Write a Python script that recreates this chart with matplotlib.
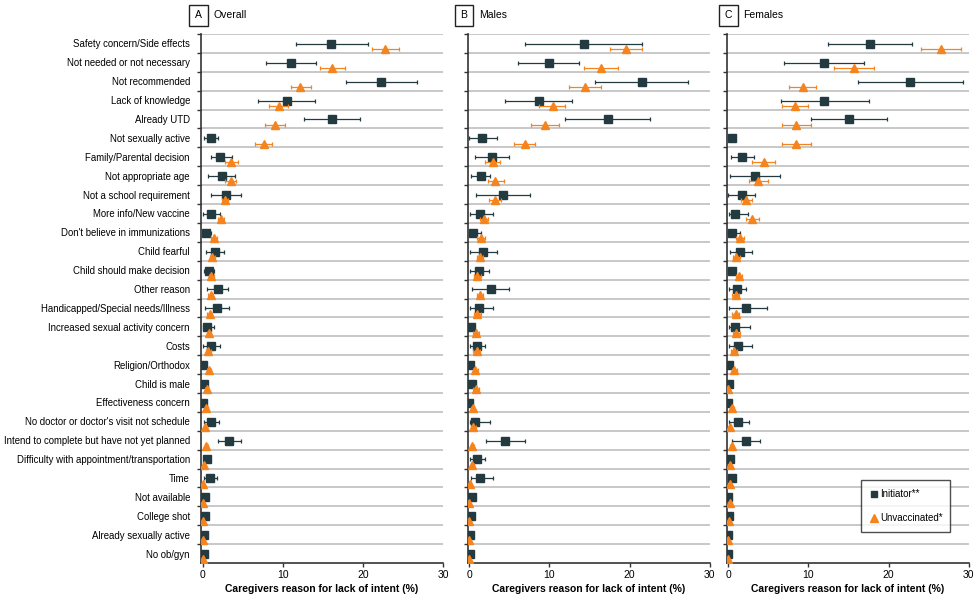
import matplotlib
matplotlib.use("Agg")
import matplotlib.pyplot as plt
import numpy as np
from matplotlib.lines import Line2D

plt.rcParams['font.family'] = ['Liberation Sans', 'DejaVu Sans']

reasons = [
    "Safety concern/Side effects", "Not needed or not necessary", "Not recommended",
    "Lack of knowledge", "Already UTD", "Not sexually active", "Family/Parental decision",
    "Not appropriate age", "Not a school requirement", "More info/New vaccine",
    "Don't believe in immunizations", "Child fearful", "Child should make decision",
    "Other reason", "Handicapped/Special needs/Illness", "Increased sexual activity concern",
    "Costs", "Religion/Orthodox", "Child is male", "Effectiveness concern",
    "No doctor or doctor's visit not schedule", "Intend to complete but have not yet planned",
    "Difficulty with appointment/transportation", "Time", "Not available", "College shot",
    "Already sexually active", "No ob/gyn",
]

# ---- Panel A: Overall ----
overall_init = [16.0, 11.0, 22.3, 10.5, 16.2, 1.0, 2.2, 2.4, 2.9, 1.0, 0.45, 1.6, 0.75, 1.9, 1.75, 0.5, 1.0, 0.1, 0.2, 0.05, 1.0, 3.3, 0.6, 0.9, 0.3, 0.3, 0.15, 0.15]
overall_init_lo = [11.6, 7.9, 17.9, 6.9, 12.6, 0.2, 1.0, 0.7, 1.0, 0.1, 0.0, 0.4, 0.2, 0.6, 0.25, 0.0, 0.1, 0.1, 0.2, 0.05, 0.2, 1.9, 0.3, 0.2, 0.3, 0.3, 0.15, 0.15]
overall_init_hi = [20.6, 14.2, 26.7, 14.0, 19.7, 1.9, 3.7, 4.1, 4.8, 2.2, 1.0, 2.7, 1.4, 3.2, 3.3, 1.4, 2.2, 0.1, 0.2, 0.05, 2.0, 4.8, 0.9, 1.8, 0.3, 0.3, 0.15, 0.15]
overall_unv = [22.8, 16.1, 12.2, 9.5, 9.0, 7.6, 3.6, 3.5, 2.8, 2.3, 1.45, 1.2, 1.1, 1.0, 0.9, 0.8, 0.7, 0.8, 0.5, 0.45, 0.35, 0.45, 0.15, 0.05, 0.1, 0.1, 0.05, 0.0]
overall_unv_lo = [21.2, 14.6, 11.0, 8.3, 7.8, 6.6, 2.8, 2.8, 2.4, 1.9, 1.1, 0.9, 0.8, 0.7, 0.6, 0.5, 0.4, 0.5, 0.3, 0.25, 0.2, 0.25, 0.05, 0.0, 0.0, 0.0, 0.0, 0.0]
overall_unv_hi = [24.5, 17.8, 13.5, 10.6, 10.3, 8.7, 4.4, 4.2, 3.2, 2.7, 1.8, 1.5, 1.4, 1.3, 1.2, 1.1, 1.0, 1.1, 0.7, 0.65, 0.5, 0.65, 0.25, 0.1, 0.2, 0.2, 0.1, 0.0]

# ---- Panel B: Males ----
males_init = [14.3, 10.0, 21.5, 8.7, 17.25, 1.6, 2.8, 1.4, 4.2, 1.3, 0.5, 1.7, 1.2, 2.75, 1.2, 0.2, 1.0, 0.05, 0.3, 0.0, 0.75, 4.5, 0.9, 1.3, 0.3, 0.15, 0.05, 0.05]
males_init_lo = [6.9, 6.1, 15.7, 4.5, 12.0, 0.0, 0.7, 0.2, 0.8, 0.1, 0.0, 0.1, 0.1, 0.3, 0.1, 0.2, 0.1, 0.05, 0.3, 0.0, 0.1, 2.1, 0.1, 0.15, 0.3, 0.15, 0.05, 0.05]
males_init_hi = [21.6, 13.7, 27.3, 12.8, 22.6, 3.4, 5.0, 2.6, 7.6, 3.0, 1.4, 3.4, 2.5, 5.0, 3.0, 0.2, 1.9, 0.05, 0.3, 0.0, 2.6, 7.0, 2.0, 3.0, 0.3, 0.15, 0.05, 0.05]
males_unv = [19.5, 16.4, 14.5, 10.4, 9.5, 6.9, 2.9, 3.25, 3.25, 1.8, 1.5, 1.3, 1.0, 1.3, 1.0, 0.8, 0.9, 0.75, 0.8, 0.4, 0.5, 0.35, 0.35, 0.1, 0.0, 0.0, 0.0, 0.0]
males_unv_lo = [17.5, 14.3, 12.5, 8.7, 7.7, 5.6, 2.0, 2.3, 2.5, 1.3, 1.0, 0.9, 0.6, 0.9, 0.6, 0.4, 0.5, 0.4, 0.4, 0.2, 0.2, 0.15, 0.15, 0.0, 0.0, 0.0, 0.0, 0.0]
males_unv_hi = [21.5, 18.6, 16.4, 12.0, 11.2, 8.2, 3.8, 4.3, 4.0, 2.3, 2.0, 1.7, 1.4, 1.7, 1.4, 1.2, 1.3, 1.1, 1.2, 0.6, 0.8, 0.55, 0.55, 0.2, 0.0, 0.0, 0.0, 0.0]

# ---- Panel C: Females ----
females_init = [17.7, 12.0, 22.7, 12.0, 15.1, 0.4, 1.75, 3.3, 1.7, 0.8, 0.45, 1.4, 0.4, 1.1, 2.25, 0.8, 1.2, 0.1, 0.05, 0.0, 1.2, 2.2, 0.25, 0.45, 0.0, 0.1, 0.0, 0.0]
females_init_lo = [12.4, 7.0, 16.2, 6.6, 10.3, 0.4, 0.3, 0.2, 0.0, 0.1, 0.0, 0.2, 0.4, 0.1, 0.1, 0.1, 0.1, 0.1, 0.05, 0.0, 0.1, 0.45, 0.25, 0.45, 0.0, 0.1, 0.0, 0.0]
females_init_hi = [22.9, 16.9, 29.25, 17.5, 19.8, 0.4, 3.2, 6.4, 3.3, 2.5, 1.4, 3.0, 0.4, 2.2, 4.8, 2.7, 3.0, 0.1, 0.05, 0.0, 2.6, 4.0, 0.25, 0.45, 0.0, 0.1, 0.0, 0.0]
females_unv = [26.5, 15.7, 9.3, 8.3, 8.5, 8.5, 4.4, 3.75, 2.25, 3.0, 1.5, 1.0, 1.3, 0.9, 0.9, 1.0, 0.7, 0.75, 0.0, 0.45, 0.2, 0.4, 0.15, 0.15, 0.15, 0.1, 0.0, 0.0]
females_unv_lo = [24.0, 13.25, 7.6, 6.7, 6.7, 6.7, 3.0, 2.6, 1.6, 2.2, 1.0, 0.6, 0.9, 0.5, 0.5, 0.6, 0.3, 0.4, 0.0, 0.2, 0.05, 0.2, 0.05, 0.05, 0.05, 0.0, 0.0, 0.0]
females_unv_hi = [29.1, 18.2, 11.0, 10.0, 10.3, 10.3, 5.8, 4.9, 2.9, 3.8, 2.0, 1.4, 1.7, 1.3, 1.3, 1.4, 1.1, 1.1, 0.0, 0.7, 0.35, 0.6, 0.25, 0.25, 0.25, 0.2, 0.0, 0.0]

panel_letters = ["A", "B", "C"]
panel_titles = ["Overall", "Males", "Females"]
x_ticks = [0, 10, 20, 30]
xlabel = "Caregivers reason for lack of intent (%)"
legend_labels = ["Initiator**", "Unvaccinated*"]

SQ_COLOR = "#233a40"
TRI_COLOR = "#f5841f"
GRID_COLOR = "#c4c4c4"
AX_COLOR = "#333333"

fig = plt.figure(figsize=(9.75, 6.02), dpi=100)
W, H = 975, 602
ax_lefts = [201.0, 467.7, 726.7]
ax_right_offset = 242.0
top_px, bot_px = 34.0, 563.0

data = [
    (overall_init, overall_init_lo, overall_init_hi, overall_unv, overall_unv_lo, overall_unv_hi),
    (males_init, males_init_lo, males_init_hi, males_unv, males_unv_lo, males_unv_hi),
    (females_init, females_init_lo, females_init_hi, females_unv, females_unv_lo, females_unv_hi),
]

n = len(reasons)
rows = np.arange(n)
axes = []
for k in range(3):
    left = ax_lefts[k] / W
    width = ax_right_offset / W
    ax = fig.add_axes([left, 1 - bot_px / H, width, (bot_px - top_px) / H])
    axes.append(ax)
    ii, ilo, ihi, uu, ulo, uhi = [np.array(a, dtype=float) for a in data[k]]
    for b in range(n):
        ax.axhline(b, color=GRID_COLOR, lw=1.3, zorder=0)
    ax.errorbar(ii, rows + 0.52, xerr=[ii - ilo, ihi - ii], fmt='s', color=SQ_COLOR,
                ecolor=SQ_COLOR, elinewidth=0.9, capsize=1.6, capthick=0.9,
                markersize=5.6, markeredgecolor=SQ_COLOR, zorder=3)
    ax.errorbar(uu, rows + 0.8, xerr=[uu - ulo, uhi - uu], fmt='^', color=TRI_COLOR,
                ecolor=TRI_COLOR, elinewidth=0.9, capsize=1.6, capthick=0.9,
                markersize=6.2, markeredgecolor=TRI_COLOR, zorder=4)
    ax.set_xlim(-0.2, 30)
    ax.set_ylim(n, 0)
    ax.set_xticks(x_ticks)
    ax.set_xticklabels([str(t) for t in x_ticks], fontsize=7.5)
    ax.set_yticks(rows + 0.5)
    if k == 0:
        ax.set_yticklabels(reasons, fontsize=6.9)
    else:
        ax.set_yticklabels([])
    ax.set_yticks(np.arange(n), minor=True)
    ax.tick_params(axis='y', which='major', length=0, pad=8)
    ax.tick_params(axis='y', which='minor', length=3, width=1.0, color=AX_COLOR, direction='out')
    ax.tick_params(axis='x', length=3, width=1.0, color=AX_COLOR, pad=2)
    for s in ['top', 'right']:
        ax.spines[s].set_visible(False)
    for s in ['left', 'bottom']:
        ax.spines[s].set_color(AX_COLOR)
        ax.spines[s].set_linewidth(1.2)
    ax.set_xlabel(xlabel, fontsize=7.5, fontweight='bold', labelpad=3)
    ax.set_facecolor('white')

# Panel headers
letter_x = [198.5, 464.0, 728.5]
for k in range(3):
    fig.text(letter_x[k] / W, 1 - 15.5 / H, panel_letters[k], ha='center', va='center', fontsize=7.5,
             bbox=dict(boxstyle='square,pad=0.55', fc='white', ec='#222222', lw=1.0))
    fig.text((letter_x[k] + 15.0) / W, 1 - 15.0 / H, panel_titles[k], ha='left', va='center', fontsize=7.5)

# Legend in panel C
handles = [Line2D([], [], marker='s', ls='', color=SQ_COLOR, markersize=5),
           Line2D([], [], marker='^', ls='', color=TRI_COLOR, markersize=5.5)]
axC = axes[2]
leg = axC.legend(handles, legend_labels, loc='lower left',
                 bbox_to_anchor=(0.554, 0.0586, 0.37, 0.092), mode='expand',
                 fontsize=7, frameon=True, fancybox=False, labelspacing=1.45,
                 handletextpad=0.1, handlelength=1.0, borderpad=0.9, borderaxespad=0)
leg.get_frame().set_edgecolor('#222222')
leg.get_frame().set_linewidth(1.0)

fig.savefig("out.png", dpi=100, facecolor='white')
